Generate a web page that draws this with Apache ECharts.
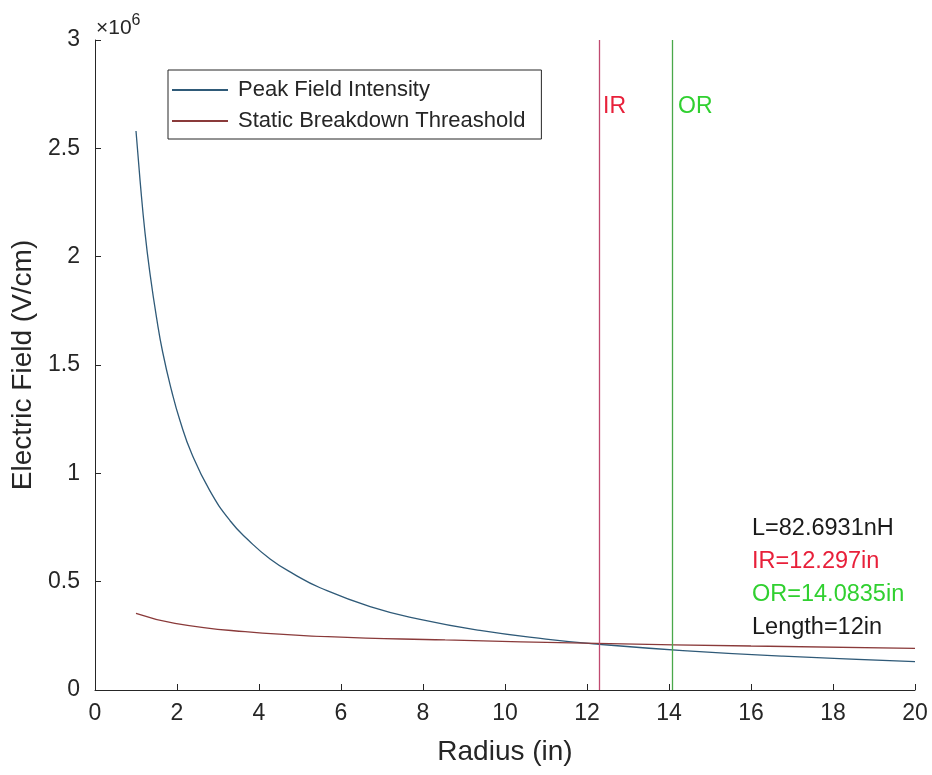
<!DOCTYPE html>
<html>
<head>
<meta charset="utf-8">
<script src="https://cdn.jsdelivr.net/npm/echarts@6/dist/echarts.min.js"></script>
<style>
  html, body { margin: 0; padding: 0; background: #fff; }
  #chart { width: 932px; height: 775px; }
</style>
</head>
<body>
<div id="chart"></div>
<script>
// values (x in inches, y in V/cm)
const peakRadius = [1.0, 1.1, 1.22, 1.35, 1.5, 1.65, 1.87, 2.07, 2.36, 2.8, 3.3, 3.75, 4.27, 4.85, 5.49, 6.71, 7.93, 9.39, 11.0, 12.24, 14.34, 16.78, 20.0];
const peakField = [2.58e6, 2.35e6, 2.11e6, 1.91e6, 1.72e6, 1.56e6, 1.38e6, 1.245e6, 1.09e6, 0.92e6, 0.78e6, 0.69e6, 0.605e6, 0.535e6, 0.472e6, 0.385e6, 0.326e6, 0.275e6, 0.235e6, 0.212e6, 0.182e6, 0.156e6, 0.131e6];
const staticRadius = [1.0, 1.95, 3.66, 5.68, 8.54, 12.24, 16.0, 20.0];
const staticField = [0.354e6, 0.308e6, 0.269e6, 0.246e6, 0.231e6, 0.215e6, 0.203e6, 0.192e6];
const innerRadius = 12.297;
const outerRadius = 14.0835;
const notes = ['L=82.6931nH', 'IR=12.297in', 'OR=14.0835in', 'Length=12in'];

const axisColor = '#262626';
const font = 'Liberation Sans, Arial, sans-serif';

let chart = echarts.init(document.getElementById('chart'), null, { renderer: 'canvas' });

const option = {
  animation: false,
  backgroundColor: '#fff',
  textStyle: { fontFamily: font },
  grid: { left: 95, right: 17, top: 40, bottom: 85 },
  legend: {
    orient: 'vertical',
    left: 168,
    top: 70,
    padding: [9, 16, 7, 4],
    itemGap: 9,
    itemWidth: 56,
    itemHeight: 2,
    icon: 'rect',
    borderColor: axisColor,
    borderWidth: 1,
    backgroundColor: '#fff',
    textStyle: { fontSize: 22, color: axisColor, fontFamily: font, padding: [0, 0, 0, 5] },
    data: ['Peak Field Intensity', 'Static Breakdown Threashold']
  },
  xAxis: {
    type: 'value',
    min: 0,
    max: 20,
    interval: 2,
    name: 'Radius (in)',
    nameLocation: 'middle',
    nameGap: 48,
    nameTextStyle: { fontSize: 28, color: axisColor, fontFamily: font },
    axisLine: { lineStyle: { color: axisColor, width: 1 } },
    axisTick: { inside: true, length: 6, lineStyle: { color: axisColor } },
    axisLabel: { fontSize: 23, color: axisColor, margin: 12, fontFamily: font },
    splitLine: { show: false }
  },
  yAxis: {
    type: 'value',
    min: 0,
    max: 3e6,
    interval: 5e5,
    name: 'Electric Field (V/cm)',
    nameLocation: 'middle',
    nameGap: 54,
    nameTextStyle: { fontSize: 28, color: axisColor, fontFamily: font },
    axisLine: { show: true, lineStyle: { color: axisColor, width: 1 } },
    axisTick: { show: true, inside: true, length: 6, lineStyle: { color: axisColor } },
    axisLabel: {
      fontSize: 23, color: axisColor, margin: 15, fontFamily: font,
      formatter: v => String(v / 1e6)
    },
    splitLine: { show: false }
  },
  graphic: [
    {
      type: 'text', left: 96, top: 13,
      style: {
        text: '×10{s|6}', fontSize: 21, fill: axisColor, fontFamily: font,
        rich: { s: { fontSize: 16, verticalAlign: 'top', padding: [0, 0, 14, 0], fill: axisColor } }
      }
    },
    { type: 'text', left: 603, top: 95, style: { text: 'IR', fontSize: 23, fill: '#e8203a', fontFamily: font } },
    { type: 'text', left: 678, top: 95, style: { text: 'OR', fontSize: 23, fill: '#30d030', fontFamily: font } },
    { type: 'text', left: 752, top: 517, style: { text: notes[0], fontSize: 23.5, fill: '#1a1a1a', fontFamily: font } },
    { type: 'text', left: 752, top: 550, style: { text: notes[1], fontSize: 23.5, fill: '#e8203a', fontFamily: font } },
    { type: 'text', left: 752, top: 583, style: { text: notes[2], fontSize: 23.5, fill: '#30d030', fontFamily: font } },
    { type: 'text', left: 752, top: 616, style: { text: notes[3], fontSize: 23.5, fill: '#1a1a1a', fontFamily: font } }
  ],
  series: [
    {
      name: 'Peak Field Intensity',
      type: 'line',
      smooth: 0.5,
      symbol: 'none',
      lineStyle: { color: '#2f5a78', width: 1.3 },
      itemStyle: { color: '#2f5a78' },
      data: peakRadius.map((r, i) => [r, peakField[i]]),
      markLine: {
        silent: true,
        symbol: 'none',
        label: { show: false },
        data: [
          { xAxis: innerRadius, lineStyle: { color: '#c04a70', width: 1.3, type: 'solid' } },
          { xAxis: outerRadius, lineStyle: { color: '#4aa84a', width: 1.3, type: 'solid' } }
        ]
      }
    },
    {
      name: 'Static Breakdown Threashold',
      type: 'line',
      smooth: 0.5,
      symbol: 'none',
      lineStyle: { color: '#8a3a3a', width: 1.3 },
      itemStyle: { color: '#8a3a3a' },
      data: staticRadius.map((r, i) => [r, staticField[i]])
    }
  ]
};

chart.setOption(option);
window.addEventListener('resize', chart.resize);
</script>
</body>
</html>
